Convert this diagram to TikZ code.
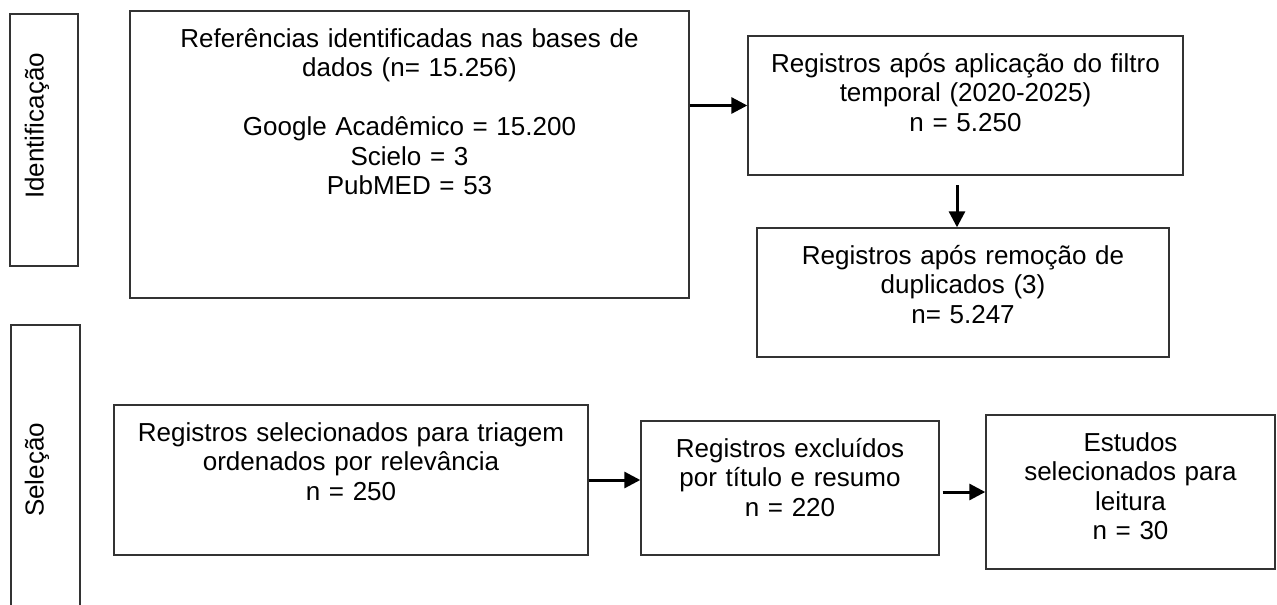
\documentclass[tikz,border=0pt]{standalone}
\usepackage{fontspec}
\setmainfont{Liberation Sans}
\usetikzlibrary{positioning,arrows.meta,calc}
\tikzset{
    x=1pt,
    y=-1pt,
    block/.style = {
        draw=black!80,
        shape=rectangle,
        inner sep=0pt,
        align=center,
        text height=36pt,
        line width=1.4pt
    },
    stage/.style = {
        draw=black!80,
        shape=rectangle,
        inner sep=0pt,
        line width=1.4pt
    },
    stagetext/.style = {
        rotate=90,
        inner sep=0pt
    },
    flow/.style = {
        draw,
        line width=3pt,
        -{Triangle[length=16pt,width=16pt]}
    },
    every node/.style = {font=\fontsize{26pt}{29.5pt}\selectfont},
}

\begin{document}
\begin{tikzpicture}
        \useasboundingbox (0,0) rectangle (1277,605);

        \node[stage, minimum width=68pt, minimum height=252pt] (idbox) at (44,140) {};
        \node[stage, minimum width=69pt, minimum height=300pt] (selbox) at (45.5,475) {};
        \node[stagetext] (idtext) at (37,126) {Identificação};
        \node[stagetext] (seltext) at (37,470) {Seleção};

        \node[block, text width=559pt, text depth=251pt] (refs) at (409.5,154.5) {Referências identificadas nas bases de\\ dados (n= 15.256)\\[29.5pt] Google Acadêmico = 15.200\\ Scielo = 3\\ PubMED = 53};
        \node[block, text width=435pt, text depth=103pt] (filtro) at (965.5,105.5) {Registros após aplicação do filtro\\ temporal (2020-2025)\\ n = 5.250};
        \node[block, text width=412pt, text depth=93pt] (dupl) at (963,292.5) {Registros após remoção de\\ duplicados (3)\\ n= 5.247};

        \node[block, text width=474pt, text depth=114pt] (triagem) at (351,480) {Registros selecionados para triagem\\ ordenados por relevância\\ n = 250};
        \node[block, text width=298pt, text depth=98pt] (excl) at (790,488) {Registros excluídos\\ por título e resumo\\ n = 220};
        \node[block, text width=289pt, text depth=118pt] (estudos) at (1130.5,492) {Estudos\\ selecionados para\\ leitura\\ n = 30};
        \coordinate (drop) at (957,185);

        \path[flow] (refs.east |- filtro.west) -- (filtro.west);
        \path[flow] (drop) -- (drop |- dupl.north);
        \path[flow] (triagem.east) -- (triagem.east -| excl.west);
        \path[flow, shorten <=3pt] ([yshift=-4pt]excl.east) -- ([yshift=-4pt]excl.east -| estudos.west);
\end{tikzpicture}
\end{document}
